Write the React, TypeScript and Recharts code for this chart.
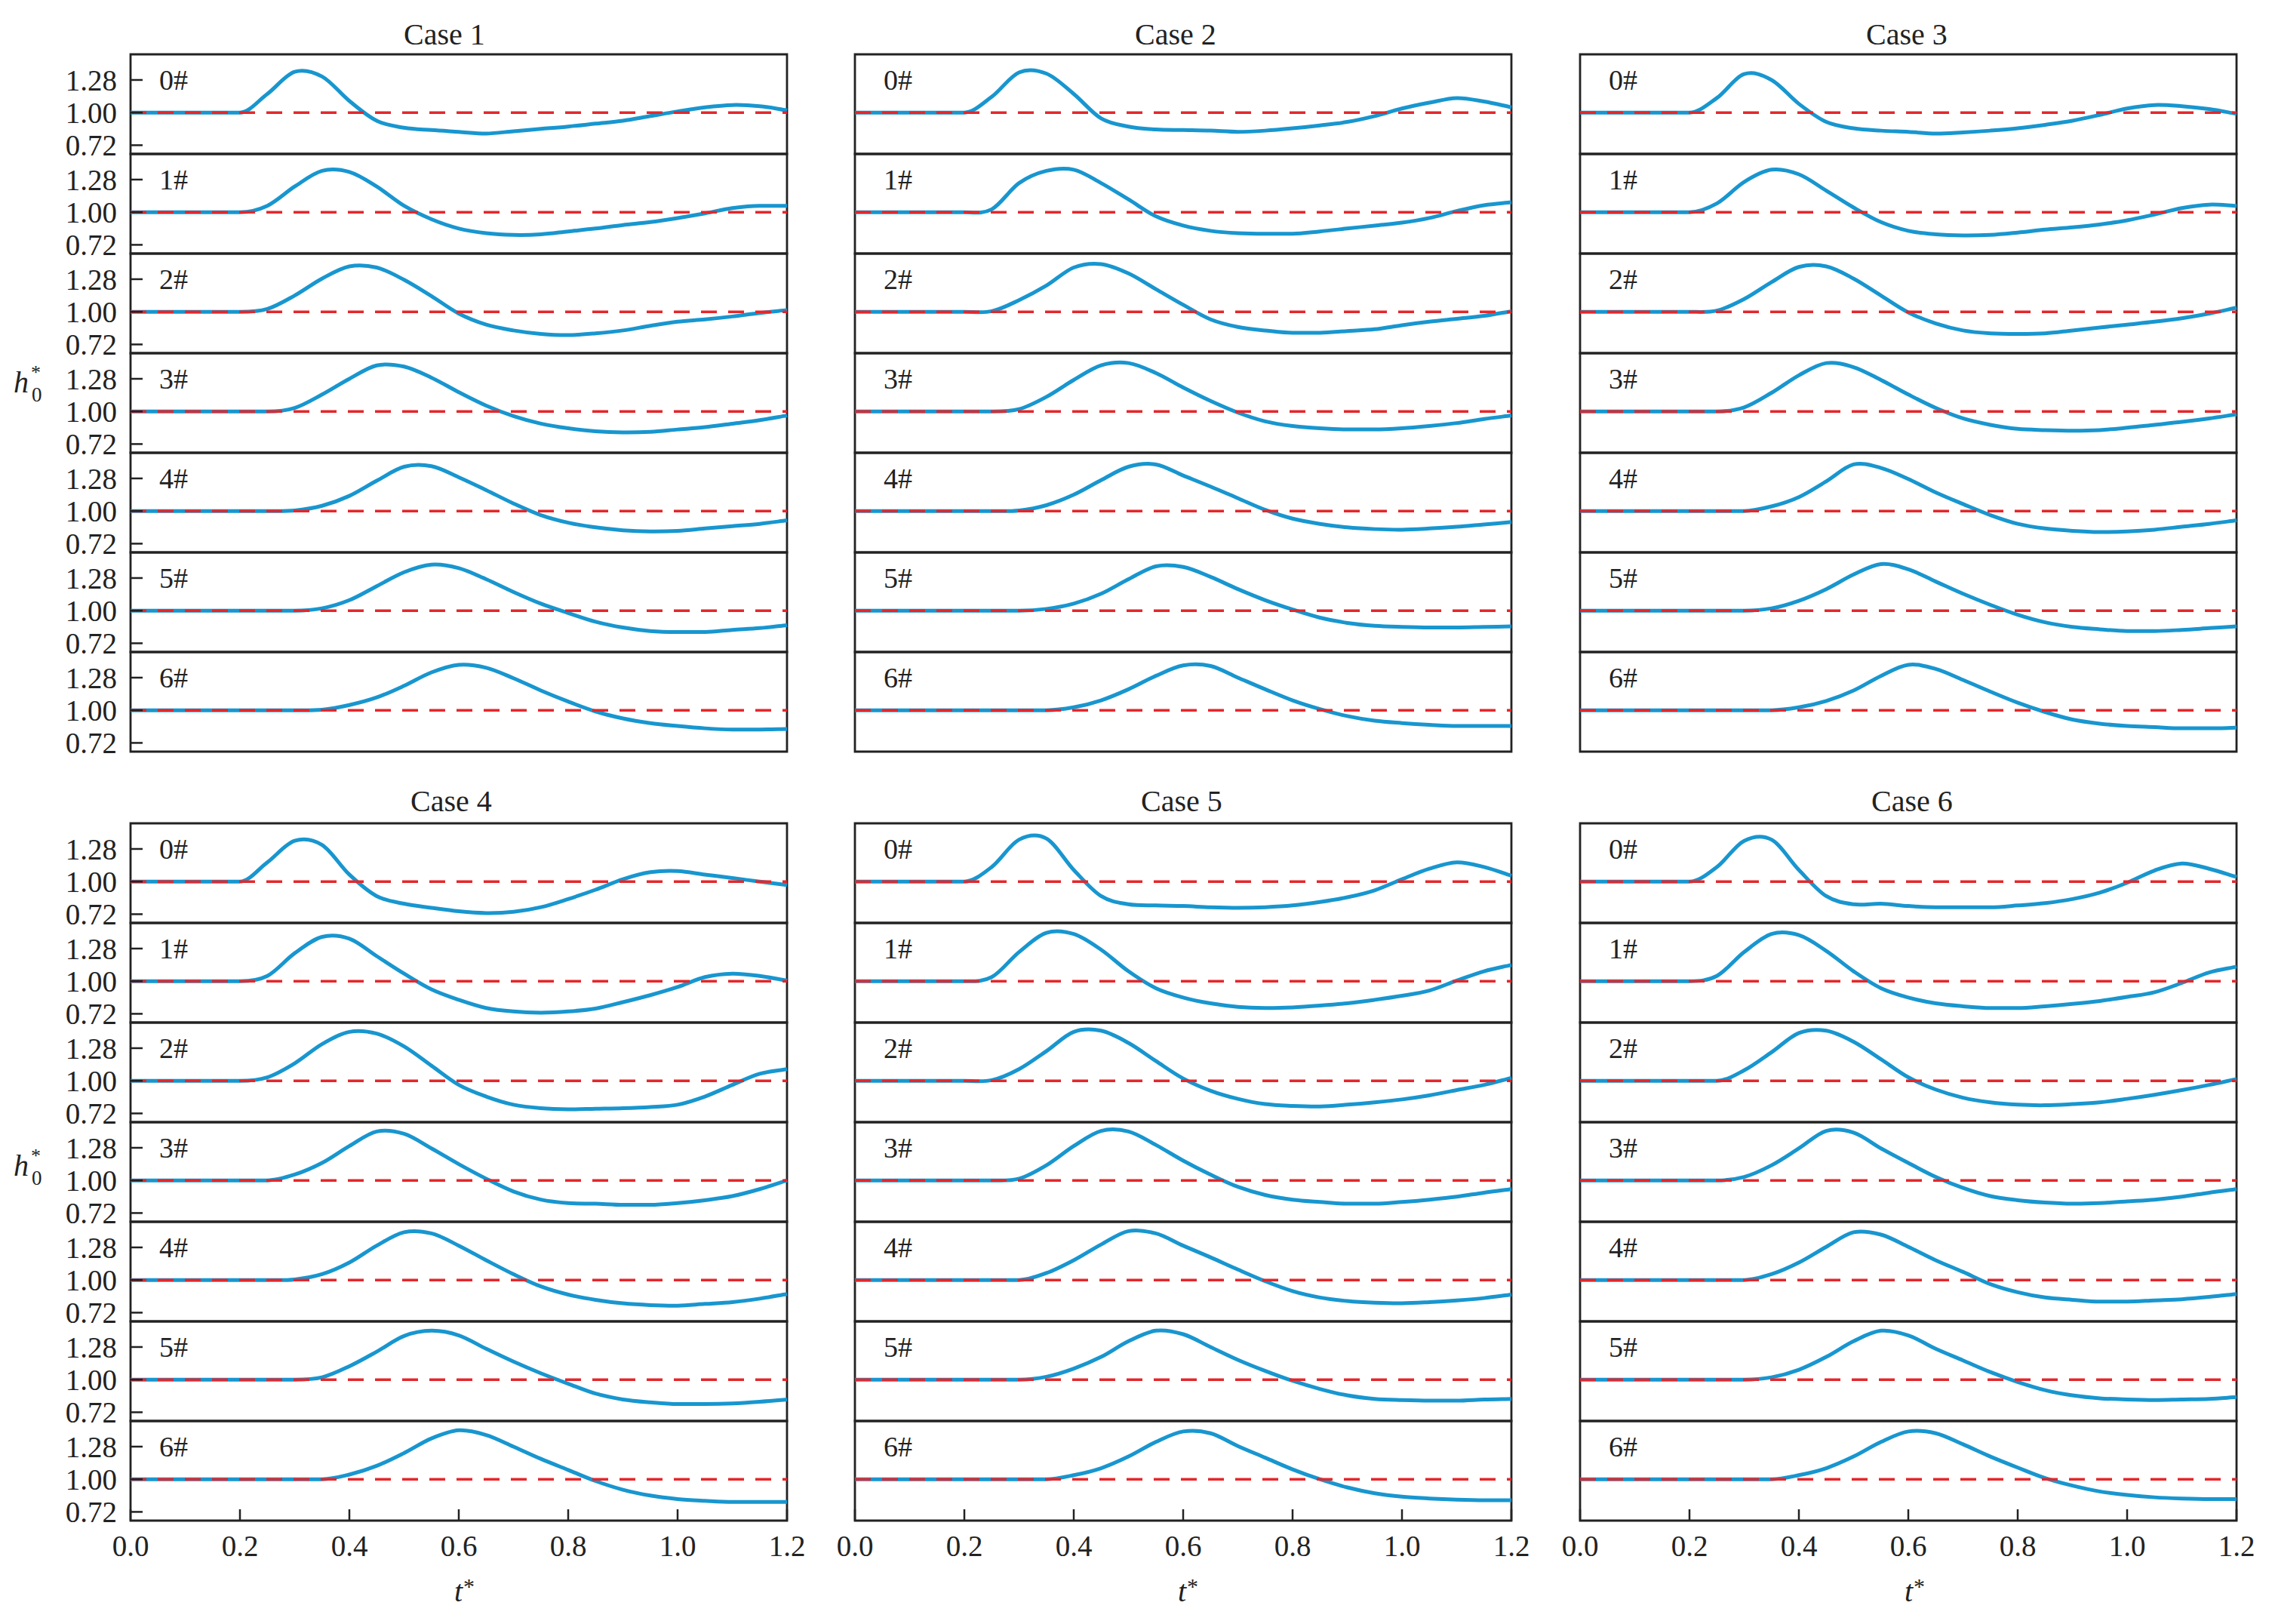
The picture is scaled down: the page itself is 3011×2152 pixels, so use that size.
import React from 'react';
import {
  LineChart,
  Line,
  XAxis,
  YAxis,
  ReferenceLine,
  ReferenceArea,
} from 'recharts';

// t* sample points shared by every curve
const T = [
  0, 0.05, 0.1, 0.15, 0.2, 0.25, 0.3, 0.35, 0.4, 0.45, 0.5, 0.55, 0.6, 0.65,
  0.7, 0.75, 0.8, 0.85, 0.9, 0.95, 1.0, 1.05, 1.1, 1.15, 1.2,
];
const X_TICKS = [0, 0.2, 0.4, 0.6, 0.8, 1.0, 1.2];
const Y_TICKS = [0.72, 1.0, 1.28];
const GAUGES = ['0#', '1#', '2#', '3#', '4#', '5#', '6#'];
const CASES = ['Case 1', 'Case 2', 'Case 3', 'Case 4', 'Case 5', 'Case 6'];

// h0* for gauges 0#..6#, one row per gauge
const case1 = [
  [1, 1, 1, 1, 1, 1.16, 1.35, 1.31, 1.1, 0.93, 0.87, 0.85, 0.835, 0.82, 0.84, 0.86, 0.88, 0.905, 0.93, 0.97, 1.01, 1.045, 1.065, 1.055, 1.02],
  [1, 1, 1, 1, 1, 1.055, 1.22, 1.355, 1.345, 1.22, 1.055, 0.94, 0.86, 0.82, 0.805, 0.81, 0.835, 0.86, 0.89, 0.915, 0.95, 0.99, 1.035, 1.055, 1.055],
  [1, 1, 1, 1, 1, 1.025, 1.14, 1.285, 1.39, 1.38, 1.275, 1.135, 0.985, 0.89, 0.84, 0.81, 0.8, 0.815, 0.84, 0.88, 0.915, 0.935, 0.96, 0.99, 1.015],
  [1, 1, 1, 1, 1, 1, 1.03, 1.145, 1.28, 1.395, 1.385, 1.29, 1.165, 1.05, 0.96, 0.895, 0.855, 0.83, 0.82, 0.825, 0.845, 0.865, 0.895, 0.925, 0.965],
  [1, 1, 1, 1, 1, 1, 1.005, 1.045, 1.13, 1.26, 1.38, 1.385, 1.29, 1.18, 1.065, 0.965, 0.9, 0.86, 0.835, 0.825, 0.83, 0.85, 0.87, 0.89, 0.92],
  [1, 1, 1, 1, 1, 1, 1, 1.02, 1.09, 1.21, 1.33, 1.395, 1.365, 1.27, 1.16, 1.06, 0.98, 0.905, 0.855, 0.825, 0.817, 0.817, 0.835, 0.85, 0.875],
  [1, 1, 1, 1, 1, 1, 1, 1.005, 1.045, 1.11, 1.21, 1.325, 1.39, 1.365, 1.275, 1.17, 1.075, 0.99, 0.93, 0.89, 0.865, 0.845, 0.835, 0.835, 0.84],
];

const case2 = [
  [1, 1, 1, 1, 1, 1.135, 1.345, 1.335, 1.16, 0.95, 0.88, 0.855, 0.85, 0.845, 0.835, 0.845, 0.865, 0.89, 0.92, 0.97, 1.035, 1.085, 1.125, 1.095, 1.045],
  [1, 1, 1, 1, 1, 1.025, 1.25, 1.355, 1.365, 1.25, 1.11, 0.965, 0.885, 0.84, 0.82, 0.815, 0.815, 0.835, 0.86, 0.885, 0.91, 0.95, 1.01, 1.06, 1.085],
  [1, 1, 1, 1, 1, 1.005, 1.1, 1.225, 1.38, 1.41, 1.33, 1.195, 1.06, 0.935, 0.87, 0.84, 0.82, 0.82, 0.835, 0.85, 0.885, 0.915, 0.94, 0.965, 1.005],
  [1, 1, 1, 1, 1, 1, 1.02, 1.125, 1.27, 1.395, 1.415, 1.33, 1.205, 1.09, 0.99, 0.915, 0.875, 0.855, 0.845, 0.845, 0.855, 0.875, 0.9, 0.935, 0.965],
  [1, 1, 1, 1, 1, 1, 1.005, 1.05, 1.14, 1.265, 1.38, 1.4, 1.305, 1.21, 1.11, 1.01, 0.935, 0.89, 0.86, 0.845, 0.84, 0.85, 0.865, 0.885, 0.905],
  [1, 1, 1, 1, 1, 1, 1, 1.015, 1.06, 1.145, 1.27, 1.38, 1.375, 1.29, 1.185, 1.09, 1.01, 0.94, 0.895, 0.87, 0.86, 0.855, 0.855, 0.86, 0.865],
  [1, 1, 1, 1, 1, 1, 1, 1, 1.025, 1.085, 1.18, 1.295, 1.385, 1.38, 1.28, 1.18, 1.085, 1.01, 0.95, 0.91, 0.89, 0.875, 0.865, 0.865, 0.865],
];

const case3 = [
  [1, 1, 1, 1, 1, 1.125, 1.33, 1.28, 1.075, 0.92, 0.865, 0.845, 0.835, 0.82, 0.83, 0.845, 0.865, 0.895, 0.93, 0.98, 1.035, 1.065, 1.055, 1.03, 0.99],
  [1, 1, 1, 1, 1, 1.075, 1.26, 1.365, 1.325, 1.185, 1.04, 0.915, 0.84, 0.81, 0.8, 0.805, 0.825, 0.85, 0.87, 0.895, 0.93, 0.98, 1.035, 1.065, 1.055],
  [1, 1, 1, 1, 1, 1.01, 1.11, 1.255, 1.385, 1.39, 1.285, 1.14, 0.995, 0.9, 0.84, 0.815, 0.81, 0.815, 0.84, 0.865, 0.89, 0.915, 0.945, 0.985, 1.035],
  [1, 1, 1, 1, 1, 1, 1.035, 1.16, 1.31, 1.415, 1.38, 1.27, 1.145, 1.03, 0.94, 0.885, 0.85, 0.84, 0.835, 0.84, 0.86, 0.885, 0.91, 0.94, 0.975],
  [1, 1, 1, 1, 1, 1, 1, 1.04, 1.12, 1.255, 1.4, 1.37, 1.275, 1.16, 1.06, 0.965, 0.89, 0.85, 0.83, 0.82, 0.825, 0.84, 0.865, 0.89, 0.92],
  [1, 1, 1, 1, 1, 1, 1, 1.02, 1.085, 1.185, 1.31, 1.4, 1.355, 1.25, 1.145, 1.05, 0.965, 0.9, 0.86, 0.84, 0.825, 0.825, 0.835, 0.85, 0.865],
  [1, 1, 1, 1, 1, 1, 1, 1, 1.025, 1.08, 1.17, 1.295, 1.39, 1.355, 1.26, 1.16, 1.065, 0.985, 0.92, 0.885, 0.865, 0.855, 0.845, 0.845, 0.85],
];

const case4 = [
  [1, 1, 1, 1, 1, 1.165, 1.35, 1.315, 1.06, 0.875, 0.81, 0.775, 0.745, 0.73, 0.74, 0.78, 0.85, 0.93, 1.02, 1.08, 1.09, 1.06, 1.03, 1.0, 0.97],
  [1, 1, 1, 1, 1, 1.045, 1.24, 1.38, 1.365, 1.215, 1.065, 0.93, 0.84, 0.77, 0.74, 0.73, 0.74, 0.765, 0.82, 0.88, 0.95, 1.035, 1.065, 1.045, 1.005],
  [1, 1, 1, 1, 1, 1.03, 1.15, 1.315, 1.42, 1.405, 1.295, 1.13, 0.965, 0.865, 0.795, 0.765, 0.755, 0.76, 0.765, 0.775, 0.795, 0.865, 0.965, 1.06, 1.1],
  [1, 1, 1, 1, 1, 1, 1.05, 1.15, 1.295, 1.42, 1.4, 1.275, 1.14, 1.015, 0.905, 0.835, 0.805, 0.8, 0.79, 0.79, 0.805, 0.83, 0.865, 0.925, 1.0],
  [1, 1, 1, 1, 1, 1, 1.005, 1.05, 1.15, 1.295, 1.41, 1.4, 1.295, 1.17, 1.05, 0.945, 0.875, 0.83, 0.8, 0.785, 0.78, 0.795, 0.81, 0.84, 0.88],
  [1, 1, 1, 1, 1, 1, 1, 1.02, 1.115, 1.24, 1.375, 1.42, 1.38, 1.265, 1.155, 1.055, 0.965, 0.88, 0.83, 0.805, 0.79, 0.79, 0.795, 0.81, 0.83],
  [1, 1, 1, 1, 1, 1, 1, 1, 1.04, 1.115, 1.225, 1.35, 1.42, 1.38, 1.28, 1.175, 1.08, 0.985, 0.91, 0.86, 0.83, 0.815, 0.805, 0.805, 0.805],
];

const case5 = [
  [1, 1, 1, 1, 1, 1.125, 1.36, 1.37, 1.1, 0.875, 0.805, 0.795, 0.79, 0.78, 0.775, 0.78, 0.795, 0.825, 0.865, 0.925, 1.02, 1.11, 1.165, 1.125, 1.05],
  [1, 1, 1, 1, 1, 1.035, 1.25, 1.415, 1.405, 1.27, 1.085, 0.94, 0.86, 0.81, 0.78, 0.77, 0.775, 0.79, 0.81, 0.84, 0.875, 0.92, 1.005, 1.085, 1.14],
  [1, 1, 1, 1, 1, 1.005, 1.1, 1.255, 1.42, 1.43, 1.325, 1.17, 1.02, 0.915, 0.845, 0.8, 0.785, 0.78, 0.795, 0.815, 0.84, 0.875, 0.92, 0.965, 1.025],
  [1, 1, 1, 1, 1, 1, 1.015, 1.13, 1.295, 1.425, 1.42, 1.305, 1.17, 1.05, 0.945, 0.875, 0.835, 0.815, 0.8, 0.8, 0.815, 0.835, 0.86, 0.895, 0.925],
  [1, 1, 1, 1, 1, 1, 1, 1.06, 1.17, 1.305, 1.42, 1.4, 1.295, 1.195, 1.09, 0.99, 0.905, 0.85, 0.82, 0.805, 0.8, 0.81, 0.825, 0.845, 0.875],
  [1, 1, 1, 1, 1, 1, 1, 1.025, 1.095, 1.195, 1.33, 1.42, 1.39, 1.28, 1.17, 1.075, 0.99, 0.92, 0.865, 0.835, 0.825, 0.82, 0.82, 0.83, 0.835],
  [1, 1, 1, 1, 1, 1, 1, 1, 1.035, 1.095, 1.195, 1.32, 1.41, 1.395, 1.285, 1.185, 1.085, 1.0, 0.93, 0.88, 0.85, 0.835, 0.825, 0.82, 0.82],
];

const case6 = [
  [1, 1, 1, 1, 1, 1.125, 1.35, 1.36, 1.1, 0.875, 0.805, 0.81, 0.79, 0.78, 0.78, 0.78, 0.795, 0.815, 0.85, 0.905, 0.99, 1.095, 1.155, 1.11, 1.04],
  [1, 1, 1, 1, 1, 1.045, 1.25, 1.405, 1.395, 1.26, 1.085, 0.94, 0.86, 0.81, 0.785, 0.77, 0.77, 0.785, 0.805, 0.83, 0.865, 0.905, 0.985, 1.075, 1.125],
  [1, 1, 1, 1, 1, 1, 1.09, 1.245, 1.41, 1.43, 1.335, 1.185, 1.03, 0.925, 0.855, 0.815, 0.795, 0.79, 0.8, 0.815, 0.845, 0.88, 0.92, 0.965, 1.015],
  [1, 1, 1, 1, 1, 1, 1.03, 1.13, 1.275, 1.425, 1.41, 1.275, 1.15, 1.03, 0.935, 0.865, 0.83, 0.81, 0.8, 0.805, 0.82, 0.835, 0.86, 0.895, 0.925],
  [1, 1, 1, 1, 1, 1, 1, 1.05, 1.15, 1.285, 1.41, 1.39, 1.285, 1.17, 1.07, 0.965, 0.895, 0.85, 0.83, 0.815, 0.815, 0.825, 0.835, 0.855, 0.88],
  [1, 1, 1, 1, 1, 1, 1, 1.02, 1.085, 1.195, 1.33, 1.42, 1.38, 1.265, 1.165, 1.065, 0.98, 0.91, 0.865, 0.84, 0.83, 0.825, 0.83, 0.835, 0.85],
  [1, 1, 1, 1, 1, 1, 1, 1, 1.035, 1.095, 1.195, 1.32, 1.41, 1.395, 1.3, 1.195, 1.1, 1.01, 0.945, 0.895, 0.865, 0.845, 0.835, 0.83, 0.83],
];

const ALL_CASES = [case1, case2, case3, case4, case5, case6];

// layout (page pixels)
const FONT = "'Liberation Serif', 'Times New Roman', serif";
const PANEL_LEFT = [173, 1133, 2094];
const ROW_TOP = [72, 1091];
const PW = 870;
const PH = 132;
const Y_W = 120;
const M_TOP = 4;
const M_R = 40;
const TITLE_X = [589, 1558, 2527, 598, 1566, 2534];
const TITLE_Y = [59, 1075];
const TSTAR_X = [612, 1571, 2534];

const BLUE = '#1896cf';
const RED = '#e4272b';
const INK = '#222';

// smooth hermite curve: keeps flat runs flat, rounds the peaks
function smoothCurve(context: any) {
  let xs: number[] = [];
  let ys: number[] = [];
  return {
    areaStart() {},
    areaEnd() {},
    lineStart() {
      xs = [];
      ys = [];
    },
    point(x: number, y: number) {
      xs.push(+x);
      ys.push(+y);
    },
    lineEnd() {
      const n = xs.length;
      if (!n) return;
      context.moveTo(xs[0], ys[0]);
      if (n < 2) return;
      const slope = (i: number) => (ys[i + 1] - ys[i]) / (xs[i + 1] - xs[i]);
      const m = xs.map((_, i) => {
        if (i === 0) return Math.abs(slope(0)) < 1e-6 ? 0 : slope(0);
        if (i === n - 1) return slope(n - 2);
        const s0 = slope(i - 1);
        const s1 = slope(i);
        if (Math.abs(s0) < 1e-6 || Math.abs(s1) < 1e-6) return 0;
        return (s0 + s1) / 2;
      });
      for (let i = 0; i < n - 1; i++) {
        const d = (xs[i + 1] - xs[i]) / 3;
        context.bezierCurveTo(
          xs[i] + d,
          ys[i] + m[i] * d,
          xs[i + 1] - d,
          ys[i + 1] - m[i + 1] * d,
          xs[i + 1],
          ys[i + 1]
        );
      }
    },
  };
}

interface SubPlotProps {
  values: number[];
  left: number;
  top: number;
  showY: boolean;
  showX: boolean;
}

function SubPlot({ values, left, top, showY, showX }: SubPlotProps) {
  const data = T.map((t, i) => ({ t, h: values[i] }));
  const xH = showX ? 80 : 30;
  const tickStyle = { fontSize: 39, fill: INK, fontFamily: FONT };
  return (
    <div style={{ position: 'absolute', left: left - Y_W, top: top - M_TOP }}>
      <LineChart
        width={Y_W + PW + M_R}
        height={M_TOP + PH + xH}
        data={data}
        margin={{ top: M_TOP, right: M_R, left: 0, bottom: 0 }}
      >
        <XAxis
          type="number"
          dataKey="t"
          domain={[0, 1.2]}
          ticks={X_TICKS}
          interval={0}
          height={xH}
          axisLine={false}
          tickSize={-15}
          tickMargin={34}
          tickLine={{ stroke: INK, strokeWidth: 2.5 }}
          tick={showX ? tickStyle : false}
          tickFormatter={(v: number) => v.toFixed(1)}
        />
        <YAxis
          type="number"
          domain={[0.645, 1.5]}
          ticks={Y_TICKS}
          interval={0}
          width={Y_W}
          axisLine={false}
          tickSize={-16}
          tickMargin={34}
          tickLine={{ stroke: INK, strokeWidth: 2.5 }}
          tick={showY ? tickStyle : false}
          tickFormatter={(v: number) => v.toFixed(2)}
        />
        <ReferenceArea
          x1={0}
          x2={1.2}
          y1={0.645}
          y2={1.5}
          fill="none"
          fillOpacity={0}
          stroke={INK}
          strokeWidth={2.8}
          ifOverflow="visible"
        />
        <Line
          type={smoothCurve as any}
          dataKey="h"
          stroke={BLUE}
          strokeWidth={5}
          dot={false}
          activeDot={false}
          isAnimationActive={false}
        />
        <ReferenceLine
          y={1}
          stroke={RED}
          strokeWidth={3.5}
          strokeDasharray="21 15"
        />
      </LineChart>
    </div>
  );
}

export default function App() {
  const plots: React.ReactNode[] = [];
  const texts: React.ReactNode[] = [];

  ALL_CASES.forEach((series, ci) => {
    const row = ci < 3 ? 0 : 1;
    const col = ci % 3;
    const left = PANEL_LEFT[col];
    series.forEach((values, k) => {
      const top = ROW_TOP[row] + k * PH;
      plots.push(
        <SubPlot
          key={`${ci}-${k}`}
          values={values}
          left={left}
          top={top}
          showY={col === 0}
          showX={row === 1 && k === 6}
        />
      );
      texts.push(
        <text key={`g${ci}-${k}`} x={left + 38} y={top + 47} fontSize={38} fill={INK}>
          {GAUGES[k]}
        </text>
      );
    });
    texts.push(
      <text key={`c${ci}`} x={TITLE_X[ci]} y={TITLE_Y[row]} fontSize={40} fill={INK} textAnchor="middle">
        {CASES[ci]}
      </text>
    );
  });

  // axis labels h0* (rows) and t* (bottom columns)
  [520, 1558].forEach((by, i) => {
    texts.push(
      <g key={`h${i}`}>
        <text x={18} y={by} fontSize={40} fontStyle="italic" fill={INK}>h</text>
        <text x={41} y={by - 18} fontSize={26} fill={INK}>*</text>
        <text x={42} y={by + 12} fontSize={27} fill={INK}>0</text>
      </g>
    );
  });
  TSTAR_X.forEach((cx, i) => {
    texts.push(
      <g key={`t${i}`}>
        <text x={cx - 10} y={2122} fontSize={40} fontStyle="italic" fill={INK}>t</text>
        <text x={cx + 2} y={2112} fontSize={30} fill={INK}>*</text>
      </g>
    );
  });

  return (
    <div
      style={{
        position: 'absolute',
        left: 0,
        top: 0,
        width: 3011,
        height: 2152,
        background: '#fff',
        fontFamily: FONT,
      }}
    >
      {plots}
      <svg
        width={3011}
        height={2152}
        style={{ position: 'absolute', left: 0, top: 0, pointerEvents: 'none', fontFamily: FONT }}
      >
        {texts}
      </svg>
    </div>
  );
}
